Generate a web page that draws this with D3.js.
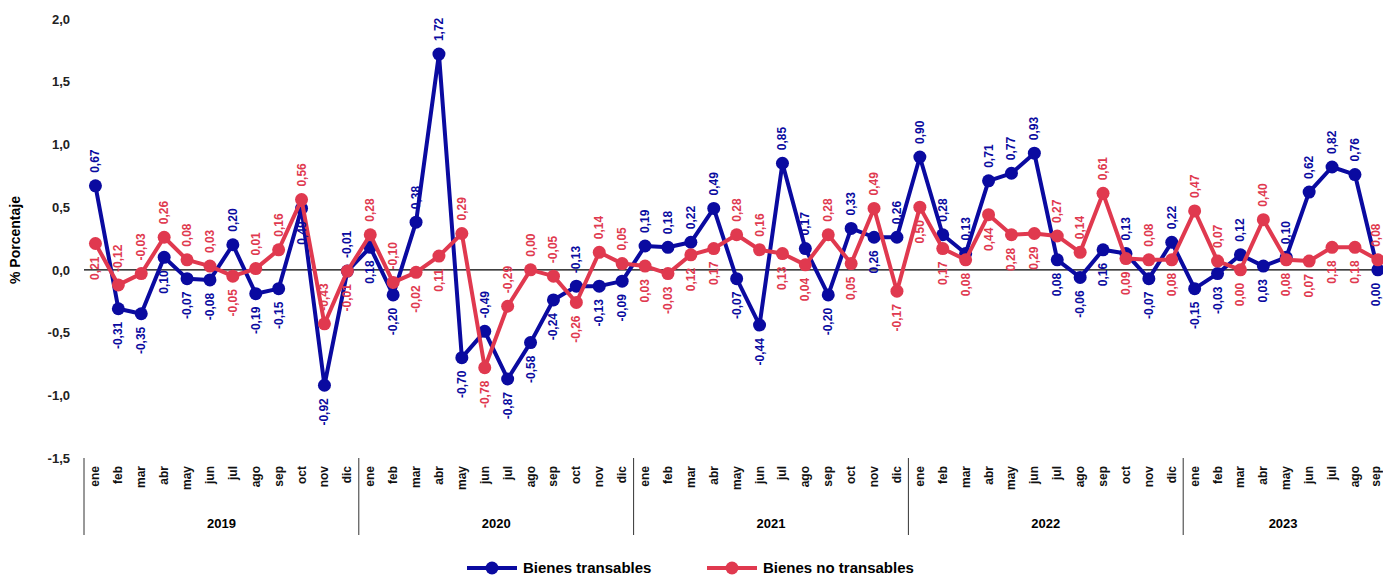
<!DOCTYPE html>
<html><head><meta charset="utf-8">
<script src="https://cdn.jsdelivr.net/npm/d3@7"></script>
<style>body{margin:0;background:#fff;font-family:Arial,"Liberation Sans",sans-serif}</style>
</head><body><svg id="c" width="1383" height="576"></svg>
<script>
const years = ["2019", "2020", "2021", "2022", "2023"];
const months = ["ene","feb","mar","abr","may","jun","jul","ago","sep","oct","nov","dic"];
const transables = [0.67,-0.31,-0.35,0.10,-0.07,-0.08,0.20,-0.19,-0.15,0.49,-0.92,-0.01,
  0.18,-0.20,0.38,1.72,-0.70,-0.49,-0.87,-0.58,-0.24,-0.13,-0.13,-0.09,
  0.19,0.18,0.22,0.49,-0.07,-0.44,0.85,0.17,-0.20,0.33,0.26,0.26,
  0.90,0.28,0.13,0.71,0.77,0.93,0.08,-0.06,0.16,0.13,-0.07,0.22,
  -0.15,-0.03,0.12,0.03,0.10,0.62,0.82,0.76,0.00];
const noTransables = [0.21,-0.12,-0.03,0.26,0.08,0.03,-0.05,0.01,0.16,0.56,-0.43,-0.01,
  0.28,-0.10,-0.02,0.11,0.29,-0.78,-0.29,0.00,-0.05,-0.26,0.14,0.05,
  0.03,-0.03,0.12,0.17,0.28,0.16,0.13,0.04,0.28,0.05,0.49,-0.17,
  0.50,0.17,0.08,0.44,0.28,0.29,0.27,0.14,0.61,0.09,0.08,0.08,
  0.47,0.07,0.00,0.40,0.08,0.07,0.18,0.18,0.08];
const yTicks = [2.0,1.5,1.0,0.5,0.0,-0.5,-1.0,-1.5];

const n = transables.length;
const cats = d3.range(n);
const svg = d3.select("#c");
const x = d3.scaleBand().domain(cats).range([84, 84 + 22.9 * n]);
const cx = i => x(i) + x.bandwidth() / 2;
const y = d3.scaleLinear().domain([-1.5, 2]).range([458, 19]);
const fmt = v => d3.format(".2f")(v).replace(".", ",").replace("−", "-");
const fmt1 = v => d3.format(".1f")(v).replace(".", ",").replace("−", "-");

// y axis
const ya = svg.append("g").attr("transform", "translate(84,0)")
  .call(d3.axisLeft(y).tickValues(yTicks).tickFormat(fmt1).tickSize(0).tickPadding(14));
ya.select(".domain").remove();
ya.selectAll("text").attr("font-size", 13).attr("font-weight", "bold").attr("fill", "#222");
svg.append("line").attr("x1", 84).attr("x2", 84).attr("y1", 458).attr("y2", 535).attr("stroke", "#333");
svg.append("text").attr("transform", "translate(20,240) rotate(-90)").attr("text-anchor", "middle")
  .attr("font-size", 14).attr("font-weight", "bold").text("% Porcentaje");

// zero line
svg.append("line").attr("x1", 84).attr("x2", 1383).attr("y1", y(0)).attr("y2", y(0)).attr("stroke", "#000").attr("stroke-width", 1.2);

// month labels
svg.append("g").selectAll("text").data(cats).join("text")
  .attr("transform", i => `translate(${Math.min(cx(i) + 4, 1380)},466) rotate(-90)`)
  .attr("text-anchor", "end").attr("font-size", 12).attr("font-weight", "bold").attr("fill", "#111")
  .text(i => months[i % 12]);
// year separators + labels
years.forEach((yr, k) => {
  const start = x(k * 12);
  if (k > 0) svg.append("line").attr("x1", start).attr("x2", start).attr("y1", 458).attr("y2", 535).attr("stroke", "#333");
  svg.append("text").attr("x", k === 4 ? (x(48) + 1383) / 2 : x(k * 12) + 6 * x.step())
    .attr("y", 528).attr("text-anchor", "middle").attr("font-size", 13).attr("font-weight", "bold").text(yr);
});

const series = [
  {name: "Bienes transables", vals: transables, other: noTransables, color: "#0a0aa0"},
  {name: "Bienes no transables", vals: noTransables, other: transables, color: "#e0394f"}
];
const line = d3.line().x((d, i) => cx(i)).y(d => y(d));
series.forEach(s => {
  svg.append("path").datum(s.vals).attr("d", line).attr("fill", "none")
    .attr("stroke", s.color).attr("stroke-width", 4).attr("stroke-linejoin", "round");
  svg.append("g").selectAll("circle").data(s.vals).join("circle")
    .attr("cx", (d, i) => cx(i)).attr("cy", d => y(d)).attr("r", 6.5).attr("fill", s.color);
});
series.forEach((s, si) => {
  const above = (d, i) => d > s.other[i] || (d === s.other[i] && si === 0);
  svg.append("g").selectAll("text").data(s.vals).join("text")
    .attr("transform", (d, i) => {
      const yy = above(d, i) ? y(d) - 13 : y(d) + 13;
      return `translate(${Math.min(cx(i) + 4, 1380)},${yy}) rotate(-90)`;
    })
    .attr("text-anchor", (d, i) => above(d, i) ? "start" : "end")
    .attr("font-size", 12).attr("font-weight", "bold").attr("fill", s.color)
    .text(d => fmt(d));
});

// legend
const lg = svg.append("g").attr("transform", "translate(467,568)");
series.forEach((s, k) => {
  const g = lg.append("g").attr("transform", `translate(${k * 240},0)`);
  g.append("line").attr("x1", 0).attr("x2", 50).attr("stroke", s.color).attr("stroke-width", 4);
  g.append("circle").attr("cx", 25).attr("r", 6.5).attr("fill", s.color);
  g.append("text").attr("x", 56).attr("y", 5).attr("font-size", 15).attr("font-weight", "bold").text(s.name);
});
</script></body></html>
